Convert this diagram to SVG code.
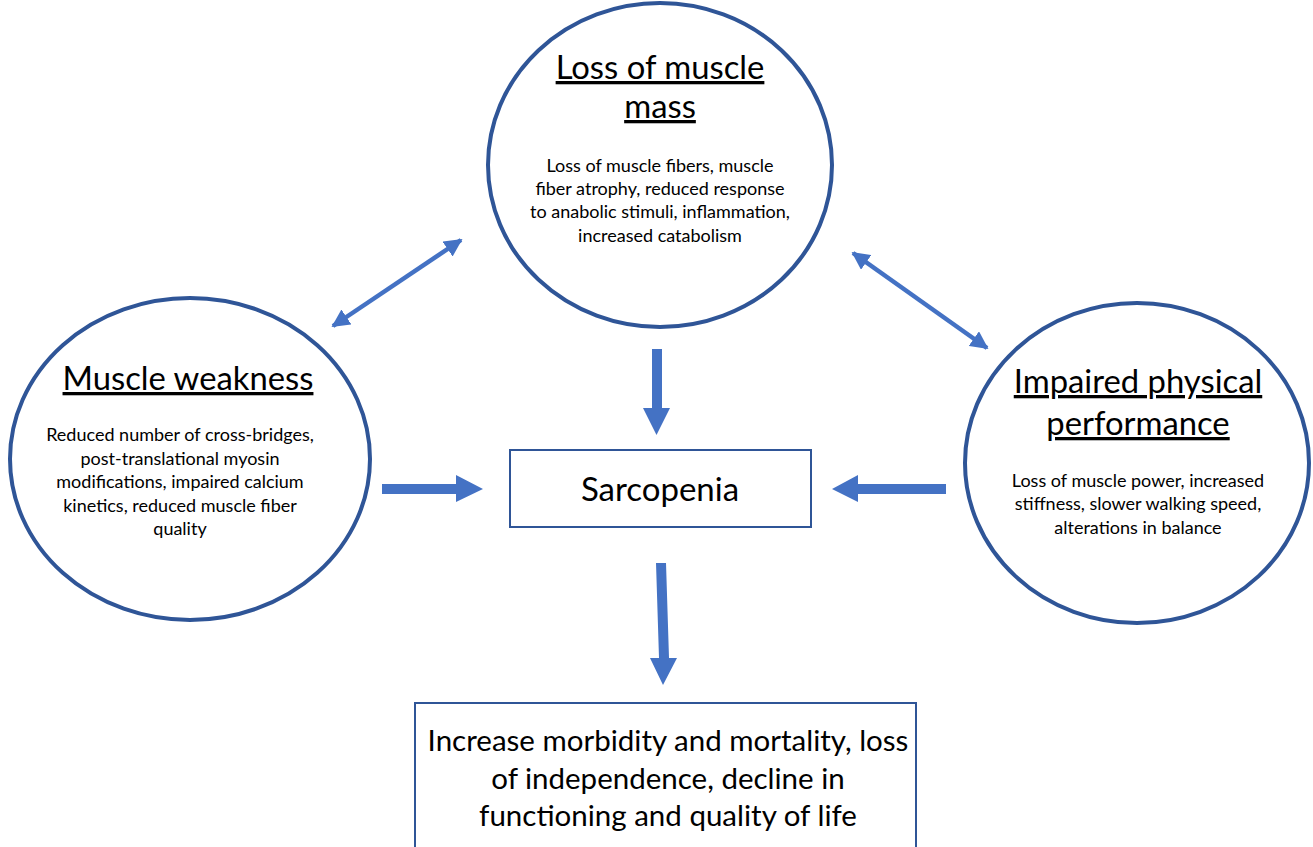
<svg xmlns="http://www.w3.org/2000/svg" width="1313" height="847" viewBox="0 0 1313 847">
<style>
.circ{fill:#fff;stroke:#2F5597;stroke-width:4}
.box{fill:#fff;stroke:#2F5597;stroke-width:2}
.t{font-family:Lato,"Liberation Sans",sans-serif;fill:#000;text-anchor:middle}
.h{font-size:32.8px;text-decoration:underline}
.s{font-size:18px}
.m{font-size:29.5px}
.sc{font-size:33px}
.arr{fill:#4472C4}
.dbl{stroke:#4472C4;stroke-width:4.5;fill:none}
</style>
<defs>
<marker id="ah" viewBox="0 0 10 10" refX="9" refY="5" markerWidth="4" markerHeight="4" orient="auto-start-reverse" markerUnits="strokeWidth">
<path d="M0,0 L10,5 L0,10 z" fill="#4472C4"/>
</marker>
</defs>
<rect width="1313" height="847" fill="#fff"/>
<g id="connectors">
<line class="dbl" x1="333" y1="326" x2="461" y2="240" marker-start="url(#ah)" marker-end="url(#ah)"/>
<line class="dbl" x1="853" y1="253" x2="987" y2="348" marker-start="url(#ah)" marker-end="url(#ah)"/>
<polygon class="arr" points="382,484 456,484 456,475 483,489 456,502 456,494 382,494"/>
<polygon class="arr" points="946,484 858,484 858,475 832,489 858,502 858,494 946,494"/>
<polygon class="arr" points="652,349 662,349 662,408 670,408 656.5,435 643,408 652,408"/>
<polygon class="arr" points="656,563 666,563 669,658 677,658 663,685 650,658 659,658"/>
</g>
<g id="node-mass">
<ellipse class="circ" cx="660" cy="165" rx="172" ry="162"/>
<text class="t h" x="660" y="79">Loss of muscle</text>
<text class="t h" x="660" y="118">mass</text>
<text class="t s" x="660" y="172">Loss of muscle fibers, muscle</text>
<text class="t s" x="660" y="195">fiber atrophy, reduced response</text>
<text class="t s" x="660" y="218">to anabolic stimuli, inflammation,</text>
<text class="t s" x="660" y="242">increased catabolism</text>
</g>
<g id="node-weakness">
<ellipse class="circ" cx="190" cy="459" rx="180" ry="161"/>
<text class="t h" x="188" y="390">Muscle weakness</text>
<text class="t s" x="180" y="441">Reduced number of cross-bridges,</text>
<text class="t s" x="180" y="465">post-translational myosin</text>
<text class="t s" x="180" y="488">modifications, impaired calcium</text>
<text class="t s" x="180" y="512">kinetics, reduced muscle fiber</text>
<text class="t s" x="180" y="535">quality</text>
</g>
<g id="node-performance">
<ellipse class="circ" cx="1137" cy="463" rx="172" ry="160"/>
<text class="t h" x="1138" y="393">Impaired physical</text>
<text class="t h" x="1138" y="435">performance</text>
<text class="t s" x="1138" y="487">Loss of muscle power, increased</text>
<text class="t s" x="1138" y="510">stiffness, slower walking speed,</text>
<text class="t s" x="1138" y="534">alterations in balance</text>
</g>
<g id="node-sarcopenia">
<rect class="box" x="510" y="450" width="301" height="77"/>
<text class="t sc" x="660" y="501">Sarcopenia</text>
</g>
<g id="node-outcome">
<rect class="box" x="415" y="703" width="501" height="160"/>
<text class="t m" x="668" y="751">Increase morbidity and mortality, loss</text>
<text class="t m" x="668" y="789">of independence, decline in</text>
<text class="t m" x="668" y="826">functioning and quality of life</text>
</g>
</svg>
